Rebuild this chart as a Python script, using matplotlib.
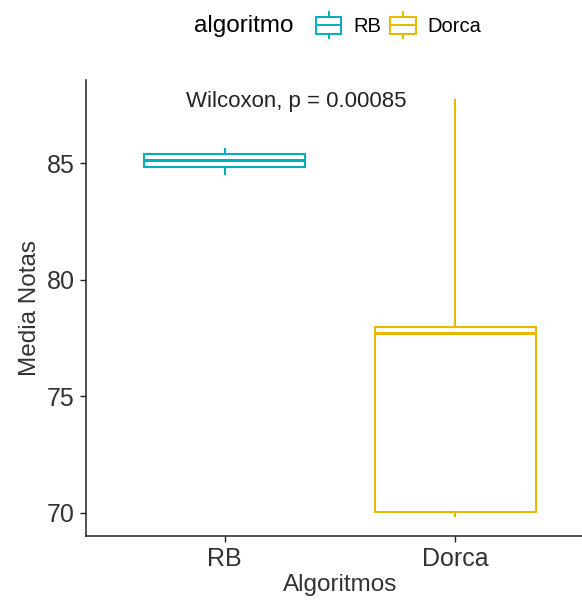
import matplotlib
matplotlib.use("Agg")
import matplotlib.pyplot as plt
from matplotlib.legend_handler import HandlerBase
from matplotlib.patches import Rectangle
from matplotlib.lines import Line2D
from matplotlib.offsetbox import HPacker

plt.rcParams['font.family'] = ['Liberation Sans', 'DejaVu Sans']

# valores (resumo de cinco numeros por algoritmo)
algoritmos = ["RB", "Dorca"]
cores = ["#00AFBB", "#E7B800"]
whisker_baixo = [84.52, 69.88]
q1 = [84.84, 70.05]
mediana = [85.13, 77.71]
q3 = [85.37, 77.97]
whisker_alto = [85.60, 87.70]
p_valor = "0.00085"


class HandlerCaixa(HandlerBase):
    def create_artists(self, legend, orig_handle, xdescent, ydescent,
                       width, height, fontsize, trans):
        cor = orig_handle.get_edgecolor()
        x0, y0 = -xdescent, -ydescent
        caixa = Rectangle((x0, y0 + height * 0.05), width, height * 0.9,
                          facecolor="white", edgecolor=cor, lw=1.4, transform=trans)
        meio = Line2D([x0, x0 + width], [y0 + height / 2] * 2, color=cor, lw=1.4, transform=trans)
        cima = Line2D([x0 + width / 2] * 2, [y0 + height * 0.95, y0 + height * 1.2],
                      color=cor, lw=1.4, transform=trans)
        baixo = Line2D([x0 + width / 2] * 2, [y0 - height * 0.2, y0 + height * 0.05],
                       color=cor, lw=1.4, transform=trans)
        return [caixa, meio, cima, baixo]


fig = plt.figure(figsize=(5.82, 6.05), dpi=100)
ax = fig.add_axes([86 / 582, 69 / 605, 508 / 582, 456 / 605])

for i, nome in enumerate(algoritmos):
    s = {"label": nome, "whislo": whisker_baixo[i], "q1": q1[i], "med": mediana[i],
         "q3": q3[i], "whishi": whisker_alto[i], "fliers": []}
    ax.bxp([s], positions=[i + 1], widths=0.7, showcaps=False, patch_artist=True,
           boxprops=dict(facecolor="white", edgecolor=cores[i], lw=1.5),
           medianprops=dict(color=cores[i], lw=2.2),
           whiskerprops=dict(color=cores[i], lw=1.5))

ax.set_xlim(0.4, 2.6)
ax.set_ylim(69.01, 88.56)
ax.set_xticks([1, 2])
ax.set_xticklabels(algoritmos)
ax.set_yticks([70, 75, 80, 85])
ax.tick_params(labelsize=18, length=4, width=1, colors="#222222", labelcolor="#333333", pad=4)
ax.set_xlabel("Algoritmos", fontsize=17.5, color="#333333", labelpad=2)
ax.set_ylabel("Media Notas", fontsize=17.5, color="#333333", labelpad=4)
for lado in ["top", "right"]:
    ax.spines[lado].set_visible(False)
for lado in ["left", "bottom"]:
    ax.spines[lado].set_linewidth(1.1)
    ax.spines[lado].set_color("#222222")

ax.text(1.31, 87.65, f"Wilcoxon, p = {p_valor}", ha="center", va="center",
        fontsize=16, color="#222222")

handles = [Rectangle((0, 0), 1, 1, edgecolor=c, facecolor="white") for c in cores]
leg = fig.legend(handles, algoritmos, loc="center", bbox_to_anchor=(338 / 582, 1 - 26 / 605),
                 ncol=2, frameon=False, fontsize=14.5, title="algoritmo", title_fontsize=17.5,
                 handler_map={Rectangle: HandlerCaixa()}, handlelength=1.25, handleheight=1.05,
                 handletextpad=0.6, columnspacing=0.45, borderpad=0)
# titulo ao lado das chaves, como no ggplot
titulo = leg._legend_title_box
caixas = leg._legend_handle_box
leg._legend_box._children = [HPacker(pad=0, sep=16, children=[titulo, caixas], align="center")]

fig.savefig("out.png", dpi=100)
